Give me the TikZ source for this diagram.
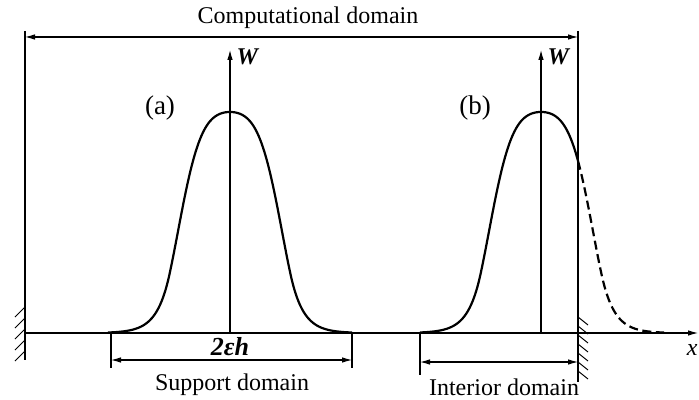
\documentclass[tikz,border=0pt]{standalone}
\usepackage{fontspec}
\setmainfont{Liberation Serif}
\usetikzlibrary{arrows.meta}

\begin{document}
\begin{tikzpicture}[x=0.5pt, y=-0.5pt, line width=0.55pt, >={Latex[length=5pt,width=2.8pt]},
    declare function={gk(\t)=(\t<0.5)*(1.13*\t*\t+17.3*\t*\t*\t*\t)+(\t>=0.5)*(1.364+9.5*(\t-0.5));
                      kw(\t)=221*exp(-gk(abs(\t)/122));},
    kern/.style={line width=1.1pt, smooth, samples=90},
    hatch/.style={line width=0.5pt},
    lbl/.style={font=\fontsize{12}{14}\selectfont, inner sep=1pt},
    tag/.style={font=\fontsize{13.5}{15}\selectfont, inner sep=1pt},
    axlbl/.style={font=\fontsize{12}{14}\selectfont\bfseries\itshape, inner sep=1pt}]
  \useasboundingbox (0,0) rectangle (699,400);
  % walls and x axis
  \coordinate (L0) at (25,31);  \coordinate (L1) at (25,360);
  \coordinate (R0) at (578,31); \coordinate (R1) at (578,382);
  \coordinate (XO) at (25,333); \coordinate (XE) at (698,333);
  \draw (L0) -- (L1);
  \draw (R0) -- (R1);
  \draw[->] (XO) -- (XE);
  \node[font=\fontsize{12}{14}\selectfont\itshape, anchor=east, inner sep=0.5pt] (xl) at (699,350) {x};
  \foreach \y in {307,318,329,340,351}
    \draw[hatch] (25,\y) -- ++(-10,10);
  \foreach \y in {317,326,...,371}
    \draw[hatch] (578,\y) -- ++(10,8);
  % computational domain
  \coordinate (CL) at (25,37); \coordinate (CR) at (578,37);
  \draw[<->] (CL) -- (CR);
  \node[lbl] (comp) at (308,18) {Computational domain};
  % (a) interior particle
  \coordinate (Wa0) at (230,333); \coordinate (Wa1) at (230,50);
  \draw[->] (Wa0) -- (Wa1);
  \node[axlbl, anchor=west] (Wa) at (234,57) {W};
  \node[tag] (ta) at (160,108) {(a)};
  \draw[kern] plot[domain=-122:122] ({230+\x}, {333-kw(\x)});
  \coordinate (Sa) at (111,333); \coordinate (Sa1) at (111,368);
  \coordinate (Sb) at (352,333); \coordinate (Sb1) at (352,368);
  \draw (Sa) -- (Sa1);
  \draw (Sb) -- (Sb1);
  \draw[<->] (111,360) coordinate (sdl) -- (352,360) coordinate (sdr);
  \node[font=\fontsize{13}{15}\selectfont\bfseries\itshape, inner sep=1pt] (eps) at (230,347) {2εh};
  \node[lbl] (sup) at (232,385) {Support domain};
  % (b) particle near the wall
  \coordinate (Wb0) at (541,333); \coordinate (Wb1) at (541,50);
  \draw[->] (Wb0) -- (Wb1);
  \node[axlbl, anchor=west] (Wb) at (545,57) {W};
  \node[tag] (tb) at (475,108) {(b)};
  \draw[kern] plot[domain=-121:37] ({541+\x}, {333-kw(\x)});
  \draw[kern, dash pattern=on 4.5pt off 2.3pt] plot[domain=37:123, samples=40] ({541+\x}, {333-kw(\x)});
  \coordinate (Ia) at (420,333); \coordinate (Ia1) at (420,375);
  \draw (Ia) -- (Ia1);
  \draw[<->] (420,362) coordinate (idl) -- (578,362) coordinate (idr);
  \node[lbl] (int) at (504,387) {Interior domain};
\end{tikzpicture}
\end{document}
